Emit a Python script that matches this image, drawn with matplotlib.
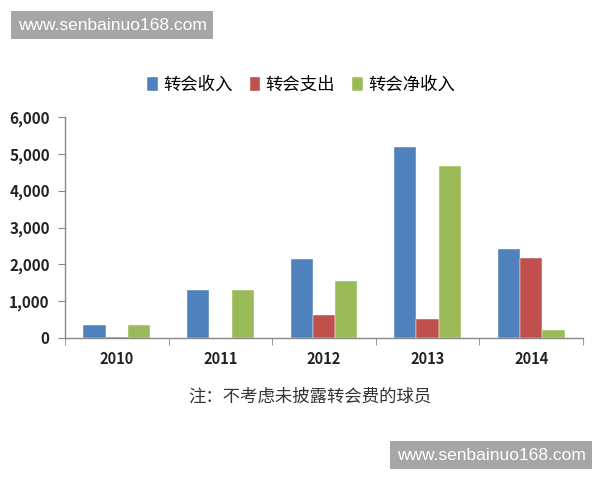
import matplotlib
matplotlib.use("Agg")
import matplotlib.pyplot as plt
import numpy as np

plt.rcParams['font.family'] = ['Noto Sans CJK SC', 'DejaVu Sans']

years = ['2010', '2011', '2012', '2013', '2014']
series_names = ['转会收入', '转会支出', '转会净收入']
income = [360, 1310, 2150, 5180, 2420]
expense = [30, 0, 630, 510, 2180]
net = [360, 1310, 1560, 4680, 230]
colors = ['#4F81BD', '#C0504D', '#9BBB59']
yticks = [0, 1000, 2000, 3000, 4000, 5000, 6000]
note = '注：不考虑未披露转会费的球员'
watermark = 'www.senbainuo168.com'

fig = plt.figure(figsize=(6, 4.8), dpi=100)
ax = fig.add_axes([65/600, 1-338/480, (583-65)/600, (338-117)/480])

x = np.arange(len(years))
w = 0.215
for i, (vals, name) in enumerate(zip([income, expense, net], series_names)):
    ax.bar(x + (i-1)*w, vals, width=w, color=colors[i], label=name,
           edgecolor='white', linewidth=0.3)

ax.set_xlim(-0.5, len(years)-0.5)
ax.set_ylim(0, 6000)
ax.set_yticks(yticks)
ax.set_yticklabels([f'{v:,}' for v in yticks], fontsize=11, fontweight='bold', color='#222222')
ax.set_xticks(x)
ax.set_xticklabels(years, fontsize=10.5, fontweight='bold', color='#222222')
ax.set_xticks(np.arange(-0.5, len(years)), minor=True)
ax.tick_params(axis='x', which='major', length=0, pad=9)
ax.tick_params(axis='x', which='minor', length=5, color='#888888', direction='out')
ax.tick_params(axis='y', length=5, color='#888888', direction='out', pad=6)
for s in ['top', 'right']:
    ax.spines[s].set_visible(False)
for s in ['left', 'bottom']:
    ax.spines[s].set_color('#888888')
    ax.spines[s].set_linewidth(1.0)

fig.legend(loc='center', bbox_to_anchor=(0.502, 1-85/480), ncol=3, frameon=False,
           handlelength=0.6, handleheight=0.8, handletextpad=0.3, columnspacing=1.0,
           prop={'size': 12.5})

fig.text(310/600, 1-397/480, note, ha='center', va='center', fontsize=12.5, color='#333333')

fig.text(112/600, 1-25/480, watermark, ha='center', va='center', fontsize=12.5,
         color='white', family='Liberation Sans',
         bbox=dict(boxstyle='square,pad=0.4', fc='#A6A6A6', ec='none'))
fig.text(491/600, 1-455/480, watermark, ha='center', va='center', fontsize=12.5,
         color='white', family='Liberation Sans',
         bbox=dict(boxstyle='square,pad=0.4', fc='#A6A6A6', ec='none'))

fig.savefig('out.png', dpi=100, facecolor='white')
